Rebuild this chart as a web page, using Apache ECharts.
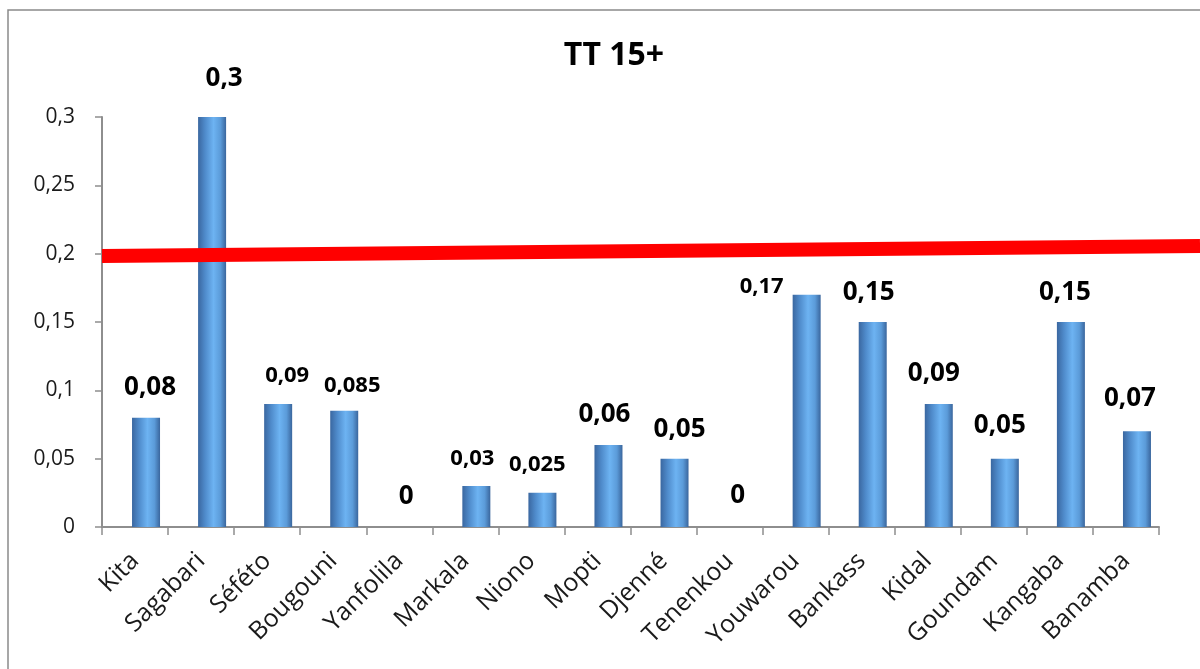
<!DOCTYPE html>
<html>
<head>
<meta charset="utf-8">
<script src="https://cdn.jsdelivr.net/npm/echarts@6/dist/echarts.min.js"></script>
<style>
  html, body { margin: 0; padding: 0; background: #fff; }
  #chart { width: 1200px; height: 669px; }
</style>
</head>
<body>
<div id="chart"></div>
<script>
// ---- data ----
const categories = ['Kita', 'Sagabari', 'Séféto', 'Bougouni', 'Yanfolila', 'Markala', 'Niono', 'Mopti',
  'Djenné', 'Tenenkou', 'Youwarou', 'Bankass', 'Kidal', 'Goundam', 'Kangaba', 'Banamba'];
const values = [0.08, 0.3, 0.09, 0.085, 0, 0.03, 0.025, 0.06, 0.05, 0, 0.17, 0.15, 0.09, 0.05, 0.15, 0.07];
const yTicks = [0, 0.05, 0.1, 0.15, 0.2, 0.25, 0.3];
// threshold line (hand-drawn, slightly tilted): value at its start and at its end
const thresholdX = [0, 1];
const thresholdY = [0.1983, 0.2056];

// ---- label styling (not data) ----
const smallLabels = new Set(['Séféto', 'Bougouni', 'Markala', 'Niono', 'Youwarou']);
const labelOffsets = {
  'Kita': [4, 0], 'Sagabari': [12, -8], 'Séféto': [9, 0], 'Bougouni': [8, 3],
  'Yanfolila': [-4, 0], 'Markala': [-4, 1], 'Niono': [-5, 0], 'Mopti': [-4, 0],
  'Djenné': [5, 1], 'Tenenkou': [-3, -1], 'Youwarou': [-45, 20], 'Bankass': [-4, 1],
  'Kidal': [-5, 0], 'Goundam': [-5, -3], 'Kangaba': [-6, 1], 'Banamba': [-7, -3]
};
const fmt = v => String(v).replace('.', ',');

const barGradient = new echarts.graphic.LinearGradient(0, 0, 1, 0, [
  { offset: 0, color: '#3a67a0' },
  { offset: 0.25, color: '#4f8bcb' },
  { offset: 0.55, color: '#6db3f2' },
  { offset: 0.8, color: '#5b9bd9' },
  { offset: 1, color: '#3a669d' }
]);

const barData = values.map((v, i) => {
  const name = categories[i];
  const small = smallLabels.has(name);
  return {
    value: v,
    label: {
      fontSize: small ? 22 : 26,
      offset: labelOffsets[name] || [0, 0]
    }
  };
});

const chart = echarts.init(document.getElementById('chart'), null, { renderer: 'canvas' });
chart.setOption({
  backgroundColor: '#ffffff',
  animation: false,
  textStyle: { fontFamily: 'Open Sans' },
  title: {
    text: 'TT 15+',
    left: 614,
    top: 40,
    padding: 0,
    textAlign: 'center',
    textStyle: { fontFamily: 'Open Sans', fontWeight: 'bold', fontSize: 32, color: '#000' }
  },
  graphic: [{
    type: 'rect',
    shape: { x: 8, y: 10, width: 1300, height: 800 },
    style: { fill: 'none', stroke: '#8a8a8a', lineWidth: 1.5 },
    silent: true,
    z: 0
  }],
  grid: [
    { left: 102, right: 41, top: 117, bottom: 142, containLabel: false },
    { left: 102, right: 0, top: 117, bottom: 142, containLabel: false }
  ],
  xAxis: [{
    type: 'category',
    gridIndex: 0,
    data: categories,
    boundaryGap: true,
    axisLine: { show: true, lineStyle: { color: '#8e8e8e', width: 2 } },
    axisTick: { show: true, length: 8, lineStyle: { color: '#8e8e8e', width: 1.5 } },
    axisLabel: { rotate: 45, fontSize: 25, color: '#1a1a1a', margin: 30, interval: 0, fontFamily: 'Open Sans' },
    splitLine: { show: false }
  }, {
    type: 'value',
    gridIndex: 1,
    min: 0,
    max: 1,
    show: false
  }],
  yAxis: [{
    type: 'value',
    gridIndex: 0,
    min: 0,
    max: 0.3,
    interval: 0.05,
    axisLine: { show: true, lineStyle: { color: '#8e8e8e', width: 2 } },
    axisTick: { show: true, length: 7, lineStyle: { color: '#8e8e8e', width: 1.5 } },
    axisLabel: {
      fontSize: 21, color: '#1a1a1a', margin: 27, fontFamily: 'Open Sans',
      formatter: v => {
        const t = yTicks.find(x => Math.abs(x - v) < 1e-9);
        return fmt(t !== undefined ? t : +v.toFixed(3));
      }
    },
    splitLine: { show: false }
  }, {
    type: 'value',
    gridIndex: 1,
    min: 0,
    max: 0.3,
    show: false
  }],
  series: [{
    // empty placeholder series that shifts the real bars right in each band
    type: 'bar',
    xAxisIndex: 0,
    yAxisIndex: 0,
    data: categories.map(() => '-'),
    barWidth: 28,
    barGap: '-21.43%',
    silent: true
  }, {
    type: 'bar',
    xAxisIndex: 0,
    yAxisIndex: 0,
    data: barData,
    barWidth: 28,
    barGap: '-21.43%',
    itemStyle: { color: barGradient, borderWidth: 0 },
    label: {
      show: true,
      position: 'top',
      distance: 17,
      fontFamily: 'Open Sans',
      fontWeight: 'bold',
      color: '#000',
      formatter: p => fmt(p.value)
    },
    z: 2
  }, {
    type: 'line',
    xAxisIndex: 1,
    yAxisIndex: 1,
    data: thresholdX.map((x, i) => [x, thresholdY[i]]),
    symbol: 'none',
    clip: false,
    silent: true,
    lineStyle: { color: '#ff0000', width: 14, cap: 'butt' },
    z: 5
  }]
});
</script>
</body>
</html>
